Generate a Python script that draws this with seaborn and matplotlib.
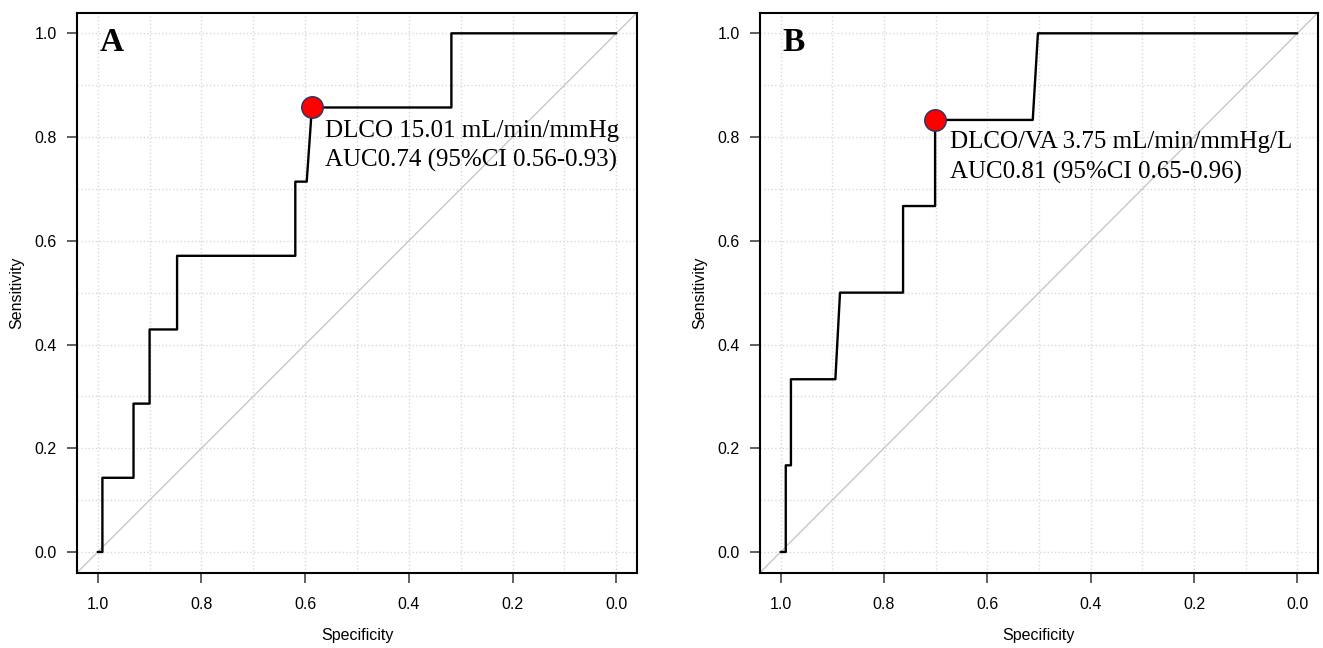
import matplotlib
matplotlib.use('Agg')
import matplotlib.pyplot as plt
import numpy as np
import pandas as pd
import seaborn as sns

# ROC curve A (DLCO)
spec_a = [1.0, 0.991, 0.991, 0.931, 0.931, 0.900, 0.900, 0.847, 0.847, 0.619, 0.619, 0.597, 0.587, 0.318, 0.318, 0.0]
sens_a = [0.0, 0.0, 0.143, 0.143, 0.286, 0.286, 0.429, 0.429, 0.571, 0.571, 0.714, 0.714, 0.857, 0.857, 1.0, 1.0]
best_a = (0.587, 0.857)
text_a = ['DLCO 15.01 mL/min/mmHg', 'AUC0.74 (95%CI 0.56-0.93)']

# ROC curve B (DLCO/VA)
spec_b = [1.0, 0.990, 0.990, 0.980, 0.980, 0.894, 0.885, 0.763, 0.763, 0.701, 0.701, 0.512, 0.502, 0.0]
sens_b = [0.0, 0.0, 0.167, 0.167, 0.333, 0.333, 0.5, 0.5, 0.667, 0.667, 0.833, 0.833, 1.0, 1.0]
best_b = (0.701, 0.833)
text_b = ['DLCO/VA 3.75 mL/min/mmHg/L', 'AUC0.81 (95%CI 0.65-0.96)']

sns.set_style('ticks')
plt.rcParams['font.family'] = ['Liberation Sans', 'DejaVu Sans']
plt.rcParams['text.color'] = 'black'
plt.rcParams['axes.labelcolor'] = 'black'

fig = plt.figure(figsize=(13.23, 6.48), dpi=100)
ax_a = fig.add_axes([0.0582, 0.1162, 0.4233, 0.8644])
ax_b = fig.add_axes([0.5744, 0.1162, 0.4218, 0.8644])

panels = [
    (ax_a, spec_a, sens_a, best_a, text_a, 'A', (0.5615, 0.801, 0.743)),
    (ax_b, spec_b, sens_b, best_b, text_b, 'B', (0.673, 0.778, 0.719)),
]

for ax, spec, sens, best, lines, letter, tpos in panels:
    df = pd.DataFrame({'Specificity': spec, 'Sensitivity': sens})
    ax.axline((1, 0), (0, 1), color='#c8c8c8', lw=1.0, zorder=1)
    sns.lineplot(data=df, x='Specificity', y='Sensitivity', sort=False,
                 estimator=None, color='black', lw=1.7, ax=ax, zorder=3)
    sns.scatterplot(x=[best[0]], y=[best[1]], s=240, color='#ff0000',
                    edgecolor='#1f3864', linewidth=1.0, ax=ax, zorder=4)

    ax.set_xlim(1.04, -0.04)
    ax.set_ylim(-0.04, 1.04)
    ax.set_xticks(np.arange(0, 1.01, 0.2))
    ax.set_yticks(np.arange(0, 1.01, 0.2))
    ax.set_xticks(np.arange(0, 1.01, 0.1), minor=True)
    ax.set_yticks(np.arange(0, 1.01, 0.1), minor=True)
    ax.xaxis.set_major_formatter(matplotlib.ticker.FormatStrFormatter('%.1f'))
    ax.yaxis.set_major_formatter(matplotlib.ticker.FormatStrFormatter('%.1f'))
    ax.grid(which='both', color='#d9d9d9', linestyle=':', lw=1.0)
    ax.tick_params(which='major', length=7.5, width=1.2, color='#444444',
                   labelsize=11.5, labelcolor='black')
    ax.tick_params(axis='x', pad=10)
    ax.tick_params(axis='y', pad=7)
    ax.tick_params(which='minor', length=0)
    for sp in ax.spines.values():
        sp.set_visible(True)
        sp.set_color('black')
        sp.set_linewidth(1.5)

    ax.set_xlabel('Specificity', fontsize=11.5, color='black')
    ax.set_ylabel('Sensitivity', fontsize=11.5, color='black')
    ax.xaxis.set_label_coords(0.5, -0.113)
    ax.xaxis.label.set_va('center')
    ax.yaxis.set_label_coords(-0.1077, 0.5)
    ax.yaxis.label.set_va('center')

    ax.text(0.997, 0.965, letter, fontsize=24, fontweight='bold', color='black',
            family='Liberation Serif', ha='left', va='baseline')
    ax.text(tpos[0], tpos[1], lines[0], fontsize=18, family='Liberation Serif',
            color='black', ha='left', va='baseline')
    ax.text(tpos[0], tpos[2], lines[1], fontsize=18, family='Liberation Serif',
            color='black', ha='left', va='baseline')

fig.savefig('out.png', dpi=100)
